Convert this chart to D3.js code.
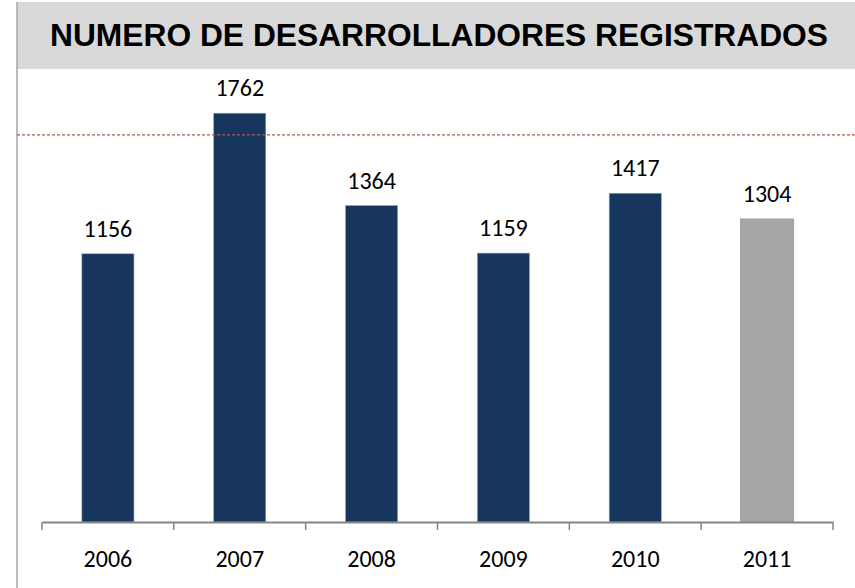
<!DOCTYPE html>
<html>
<head>
<meta charset="utf-8">
<script src="https://cdn.jsdelivr.net/npm/d3@7"></script>
<style>
  html, body { margin: 0; padding: 0; background: #fff; }
  #chart { width: 855px; height: 588px; }
</style>
</head>
<body>
<div id="chart"></div>
<script>
// datos del gráfico
const years = ["2006", "2007", "2008", "2009", "2010", "2011"];
const developers = [1156, 1762, 1364, 1159, 1417, 1304];
const partialYear = ["2011"];       // año en curso, en gris
const referenceLine = 1669;         // línea discontinua roja
const chartTitle = "NUMERO DE DESARROLLADORES REGISTRADOS";

const width = 855, height = 588;
const svg = d3.select("#chart").append("svg")
  .attr("width", width)
  .attr("height", height);

// banda del título
svg.append("rect")
  .attr("x", 17).attr("y", 2)
  .attr("width", width - 17).attr("height", 67)
  .attr("fill", "#d9d9d9");

svg.append("text")
  .attr("x", 50).attr("y", 46)
  .attr("textLength", 778)
  .attr("lengthAdjust", "spacingAndGlyphs")
  .style("font-family", "'Liberation Sans', Arial, sans-serif")
  .style("font-weight", "bold")
  .style("font-size", "31px")
  .attr("fill", "#000")
  .text(chartTitle);

// borde izquierdo
svg.append("line")
  .attr("x1", 17).attr("x2", 17)
  .attr("y1", 2).attr("y2", height)
  .attr("stroke", "#a6a6a6")
  .attr("stroke-width", 1.5);

const x = d3.scaleBand()
  .domain(years)
  .range([42, 833])
  .padding(0);

const y = d3.scaleLinear()
  .domain([0, 2000])
  .range([522, 58]);

const barW = x.bandwidth() * 0.395;

// barras
svg.append("g")
  .selectAll("rect")
  .data(years)
  .join("rect")
  .attr("x", (d) => x(d) + (x.bandwidth() - barW) / 2)
  .attr("y", (d, i) => y(developers[i]))
  .attr("width", barW)
  .attr("height", (d, i) => y(0) - y(developers[i]))
  .attr("fill", (d) => partialYear.includes(d) ? "#a6a6a6" : "#17365d")
  .attr("stroke", (d) => partialYear.includes(d) ? "#a6a6a6" : "#8aa2c0")
  .attr("stroke-width", (d) => partialYear.includes(d) ? 2 : 0.6);

// línea de referencia, encima de las barras
svg.append("line")
  .attr("x1", 17).attr("x2", width)
  .attr("y1", y(referenceLine)).attr("y2", y(referenceLine))
  .attr("stroke", "#c0504d")
  .attr("stroke-width", 1.3)
  .attr("stroke-dasharray", "3,2");

// etiquetas de valor
svg.append("g")
  .selectAll("text")
  .data(years)
  .join("text")
  .attr("x", (d) => x(d) + x.bandwidth() / 2)
  .attr("y", (d, i) => y(developers[i]) - 17)
  .attr("text-anchor", "middle")
  .style("font-family", "Carlito, Calibri, 'Open Sans', sans-serif")
  .style("font-size", "24px")
  .attr("fill", "#000")
  .text((d, i) => developers[i]);

// eje x
const xAxis = svg.append("g")
  .attr("transform", `translate(0,${y(0)})`)
  .call(d3.axisBottom(x).tickSize(0).tickFormat(""));
xAxis.select(".domain")
  .attr("stroke", "#868686")
  .attr("stroke-width", 2);

svg.append("g")
  .selectAll("line")
  .data(years.concat([null]))
  .join("line")
  .attr("x1", (d, i) => i < years.length ? x(d) : x.range()[1])
  .attr("x2", (d, i) => i < years.length ? x(d) : x.range()[1])
  .attr("y1", y(0))
  .attr("y2", y(0) + 8)
  .attr("stroke", "#868686")
  .attr("stroke-width", 1.5);

svg.append("g")
  .selectAll("text")
  .data(years)
  .join("text")
  .attr("x", (d) => x(d) + x.bandwidth() / 2)
  .attr("y", 567)
  .attr("text-anchor", "middle")
  .style("font-family", "Carlito, Calibri, 'Open Sans', sans-serif")
  .style("font-size", "24px")
  .attr("fill", "#000")
  .text((d) => d);
</script>
</body>
</html>
